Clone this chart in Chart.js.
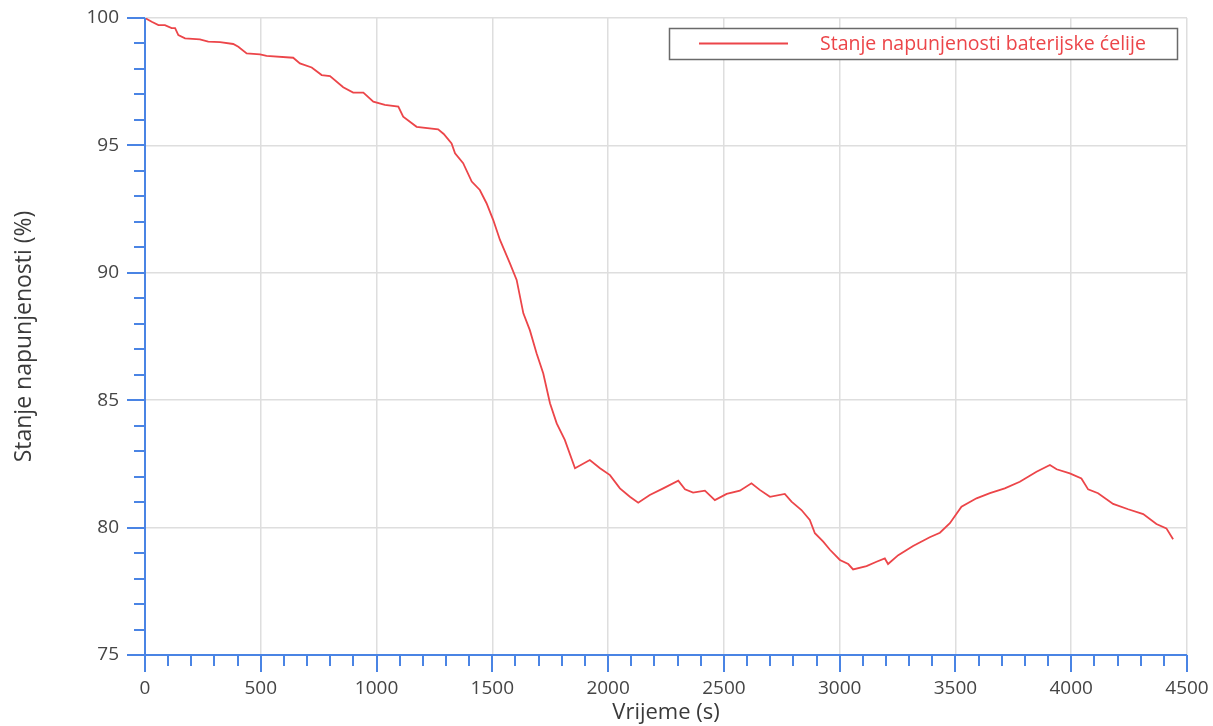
<!DOCTYPE html>
<html>
<head>
<meta charset="utf-8">
<script src="https://cdn.jsdelivr.net/npm/chart.js@4"></script>
<style>
  html, body { margin: 0; padding: 0; background: #ffffff; }
  #wrap { width: 1213px; height: 726px; position: relative; }
</style>
</head>
<body>
<div id="wrap"><canvas id="c" width="1213" height="726"></canvas></div>
<script>
// Battery cell state of charge over time
const timeSeconds = [
  0, 29, 58, 86, 115, 130, 144, 173, 237, 273, 324, 381, 403, 439, 497, 525,
  640, 669, 720, 763, 799, 856, 899, 943, 986, 1036, 1094, 1115, 1173, 1266,
  1290, 1324, 1339, 1374, 1411, 1446, 1475, 1504, 1533, 1576, 1605, 1634, 1662,
  1691, 1720, 1749, 1778, 1813, 1857, 1921, 1965, 2008, 2051, 2094, 2130, 2180,
  2238, 2303, 2332, 2367, 2418, 2461, 2512, 2569, 2619, 2655, 2699, 2763, 2792,
  2835, 2871, 2893, 2929, 2958, 3001, 3037, 3058, 3116, 3159, 3195, 3209, 3253,
  3317, 3389, 3433, 3476, 3526, 3591, 3649, 3713, 3778, 3850, 3908, 3937, 3994,
  4044, 4073, 4116, 4181, 4246, 4311, 4368, 4411, 4440
];
const stateOfCharge = [
  100, 99.85, 99.72, 99.72, 99.6, 99.6, 99.33, 99.2, 99.16, 99.07, 99.05, 98.98, 98.87, 98.61, 98.57, 98.51,
  98.44, 98.22, 98.06, 97.76, 97.72, 97.28, 97.07, 97.07, 96.72, 96.59, 96.52, 96.13, 95.73, 95.63,
  95.45, 95.08, 94.69, 94.30, 93.58, 93.25, 92.73, 92.07, 91.29, 90.37, 89.72, 88.41, 87.75,
  86.84, 86.05, 84.88, 84.09, 83.44, 82.33, 82.65, 82.33, 82.06, 81.54, 81.21, 80.98, 81.28,
  81.54, 81.84, 81.50, 81.37, 81.45, 81.08, 81.32, 81.45, 81.74, 81.48, 81.21, 81.32, 81.02,
  80.69, 80.30, 79.78, 79.45, 79.13, 78.73, 78.57, 78.36, 78.49, 78.66, 78.79, 78.57, 78.92,
  79.28, 79.62, 79.80, 80.17, 80.82, 81.15, 81.35, 81.54, 81.80, 82.19, 82.46, 82.29, 82.13,
  81.93, 81.50, 81.35, 80.93, 80.72, 80.53, 80.14, 79.97, 79.54
];
const xTickValues = [0, 500, 1000, 1500, 2000, 2500, 3000, 3500, 4000, 4500];
const yTickValues = [75, 80, 85, 90, 95, 100];
const xMinorStep = 100;
const yMinorStep = 1;

const seriesLabel = 'Stanje napunjenosti baterijske ćelije';
const xTitle = 'Vrijeme (s)';
const yTitle = 'Stanje napunjenosti (%)';

const FONT = '"Open Sans", "DejaVu Sans", sans-serif';
const LINE_RED = '#ec4549';
const AXIS_BLUE = '#4a84e4';

// Keep the plot area edges fixed: no extra room for overhanging tick labels
function noOverhang(scale) {
  scale.paddingTop = 0;
  scale.paddingBottom = 0;
  scale.paddingLeft = 0;
  scale.paddingRight = 0;
}

// Blue axis lines with long major and short minor ticks drawn outside the plot
const axisTicks = {
  id: 'axisTicks',
  afterDraw(chart) {
    const { ctx, chartArea: a, scales: { x, y } } = chart;
    ctx.save();
    ctx.strokeStyle = AXIS_BLUE;
    ctx.lineWidth = 2;
    ctx.beginPath();
    ctx.moveTo(a.left, a.top);
    ctx.lineTo(a.left, a.bottom);
    ctx.moveTo(a.left, a.bottom);
    ctx.lineTo(a.right, a.bottom);
    ctx.stroke();
    ctx.beginPath();
    for (let v = x.min; v <= x.max + 1e-6; v += xMinorStep) {
      const px = Math.round(x.getPixelForValue(v));
      const major = xTickValues.includes(v);
      ctx.moveTo(px, a.bottom);
      ctx.lineTo(px, a.bottom + (major ? 17 : 11));
    }
    for (let v = y.min; v <= y.max + 1e-6; v += yMinorStep) {
      const py = Math.round(y.getPixelForValue(v));
      const major = yTickValues.includes(v);
      ctx.moveTo(a.left, py);
      ctx.lineTo(a.left - (major ? 18 : 11), py);
    }
    ctx.stroke();
    ctx.restore();
  }
};

// Boxed legend in the upper right corner
const boxLegend = {
  id: 'boxLegend',
  afterDraw(chart) {
    const { ctx } = chart;
    const ds = chart.data.datasets[0];
    const bx = 669, by = 28, bw = 508, bh = 31;
    ctx.save();
    ctx.fillStyle = '#ffffff';
    ctx.fillRect(bx, by, bw, bh);
    ctx.strokeStyle = '#6a6a6a';
    ctx.lineWidth = 1.5;
    ctx.strokeRect(bx + 0.5, by + 0.5, bw, bh);
    ctx.strokeStyle = ds.borderColor;
    ctx.lineWidth = 2;
    ctx.beginPath();
    ctx.moveTo(699, by + 15.5);
    ctx.lineTo(788, by + 15.5);
    ctx.stroke();
    ctx.fillStyle = ds.borderColor;
    ctx.font = '19.5px ' + FONT;
    ctx.textBaseline = 'middle';
    ctx.textAlign = 'left';
    ctx.fillText(ds.label, 820, by + 16);
    ctx.restore();
  }
};

new Chart(document.getElementById('c'), {
  type: 'line',
  data: {
    datasets: [{
      label: seriesLabel,
      data: timeSeconds.map((t, i) => ({ x: t, y: stateOfCharge[i] })),
      borderColor: LINE_RED,
      borderWidth: 1.8,
      pointRadius: 0,
      tension: 0,
      fill: false
    }]
  },
  options: {
    responsive: false,
    animation: false,
    layout: { padding: { top: 18, right: 26, left: 0, bottom: 0 } },
    plugins: { legend: { display: false }, tooltip: { enabled: false } },
    scales: {
      x: {
        type: 'linear',
        min: 0,
        max: 4500,
        afterBuildTicks(scale) { scale.ticks = xTickValues.map(v => ({ value: v })); },
        afterFit(scale) { scale.height = 71; noOverhang(scale); },
        ticks: {
          color: '#454545',
          font: { family: FONT, size: 19 },
          padding: 22,
          maxRotation: 0,
          autoSkip: false,
          callback: v => String(v)
        },
        grid: { color: '#dedede', lineWidth: 1.5, drawTicks: false },
        border: { display: false },
        title: {
          display: true,
          text: xTitle,
          color: '#3a3a3a',
          font: { family: FONT, size: 22 },
          padding: { top: 0, bottom: 0 }
        }
      },
      y: {
        type: 'linear',
        min: 75,
        max: 100,
        afterBuildTicks(scale) { scale.ticks = yTickValues.map(v => ({ value: v })); },
        afterFit(scale) { scale.width = 145; noOverhang(scale); },
        ticks: {
          color: '#454545',
          font: { family: FONT, size: 19 },
          padding: 26,
          callback: v => String(v)
        },
        grid: { color: '#dedede', lineWidth: 1.5, drawTicks: false },
        border: { display: false },
        title: {
          display: true,
          text: yTitle,
          color: '#3a3a3a',
          font: { family: FONT, size: 23 },
          padding: { top: 11, bottom: 0 }
        }
      }
    }
  },
  plugins: [axisTicks, boxLegend]
});
</script>
</body>
</html>
